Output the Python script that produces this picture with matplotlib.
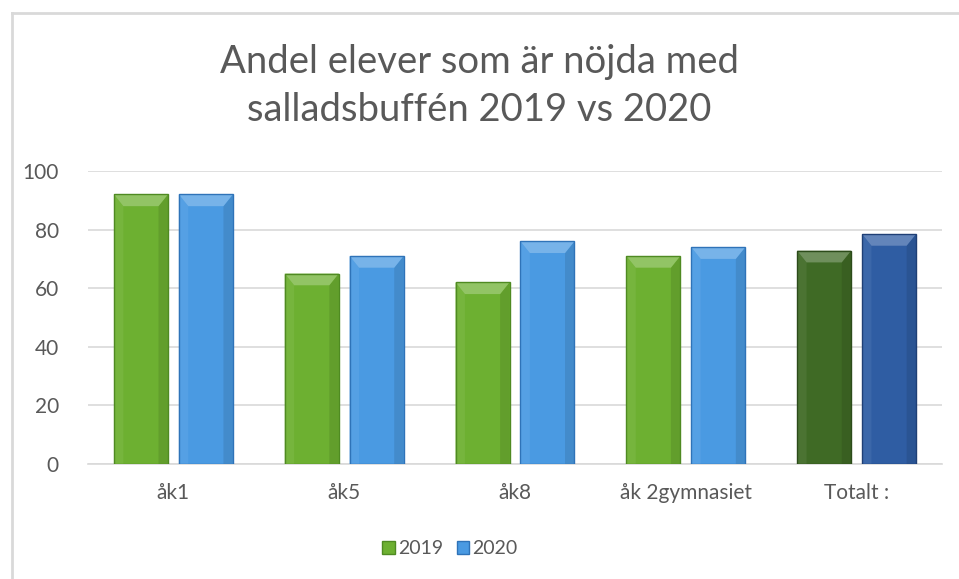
import matplotlib
matplotlib.use("Agg")
import matplotlib.pyplot as plt
import numpy as np
from matplotlib.lines import Line2D
from matplotlib.patches import Patch, Polygon
from matplotlib.colors import to_rgb

categories = ["åk1", "åk5", "åk8", "åk 2gymnasiet", "Totalt :"]
values_2019 = [92, 65, 62, 71, 72.8]
values_2020 = [92, 71, 76, 74, 78.5]
series_labels = ["2019", "2020"]
title = "Andel elever som är nöjda med\nsalladsbuffén 2019 vs 2020"

colors_2019 = ["#6DB031"] * 4 + ["#3F6A25"]
colors_2020 = ["#4A9AE2"] * 4 + ["#2F5DA3"]
edge_2019 = ["#4F8A22"] * 4 + ["#2C4B1A"]
edge_2020 = ["#2F73B8"] * 4 + ["#1F3F75"]

plt.rcParams['font.family'] = ['Lato', 'DejaVu Sans']

fig = plt.figure(figsize=(9.59, 5.79), dpi=100)
ax = fig.add_axes([88/959, 1-464/579, (942-88)/959, (464-171)/579])

x = np.arange(len(categories))
w = 0.316
off = 0.19
b1 = ax.bar(x - off, values_2019, w, color=colors_2019, edgecolor=edge_2019, linewidth=1, zorder=3)
b2 = ax.bar(x + off, values_2020, w, color=colors_2020, edgecolor=edge_2020, linewidth=1, zorder=3)


def mix(c, t, a):
    c = np.array(to_rgb(c)); t = np.array(to_rgb(t))
    return tuple(c * (1 - a) + t * a)


def bevel(bars):
    bx = 0.055   # bevel depth in x data units
    by = 4.0     # bevel depth in y data units
    for p in bars:
        x0 = p.get_x(); x1 = x0 + p.get_width(); h = p.get_height()
        c = p.get_facecolor()
        top = Polygon([[x0, h], [x1, h], [x1 - bx, h - by], [x0 + bx, h - by]],
                      closed=True, facecolor=mix(c, "white", 0.25), edgecolor="none", zorder=4)
        left = Polygon([[x0, 0], [x0, h], [x0 + bx, h - by], [x0 + bx, 0]],
                       closed=True, facecolor=mix(c, "white", 0.06), edgecolor="none", zorder=4)
        right = Polygon([[x1, 0], [x1, h], [x1 - bx, h - by], [x1 - bx, 0]],
                        closed=True, facecolor=mix(c, "black", 0.10), edgecolor="none", zorder=4)
        ax.add_patch(left); ax.add_patch(right); ax.add_patch(top)
        p.set_zorder(5); p.set_facecolor("none")


bevel(b1)
bevel(b2)
# fill body under bevels
ax.bar(x - off, values_2019, w, color=colors_2019, linewidth=0, zorder=3)
ax.bar(x + off, values_2020, w, color=colors_2020, linewidth=0, zorder=3)

ax.set_xlim(-0.5, len(categories) - 0.5)
ax.set_ylim(0, 100)
ax.set_yticks(range(0, 101, 20))
ax.set_xticks(x)
ax.set_xticklabels(categories)
ax.tick_params(axis='both', length=0, labelsize=15, colors="#595959")
ax.tick_params(axis='y', pad=21)
ax.tick_params(axis='x', pad=14)
ax.grid(axis='y', color="#D9D9D9", linewidth=1.2, zorder=0)
for s in ["top", "right", "left"]:
    ax.spines[s].set_visible(False)
ax.spines["bottom"].set_color("#D9D9D9")
ax.spines["bottom"].set_linewidth(1.2)

fig.text(479/959, 1-86/579, title, ha="center", va="center", fontsize=27.5,
         color="#595959", linespacing=1.4)

handles = [Patch(facecolor="#6DB031", edgecolor="#4F8A22"),
           Patch(facecolor="#4A9AE2", edgecolor="#2F73B8")]
leg = fig.legend(handles, series_labels, loc="center", bbox_to_anchor=(450/959, 1-549/579),
                 ncol=2, frameon=False, fontsize=14, handlelength=0.65, handleheight=0.65,
                 handletextpad=0.15, columnspacing=0.7)
for t in leg.get_texts():
    t.set_color("#595959")

fig.add_artist(Line2D([12/959, 12/959], [0, 1-13/579], color="#D9D9D9", linewidth=2, transform=fig.transFigure))
fig.add_artist(Line2D([12/959, 1], [1-13/579, 1-13/579], color="#D9D9D9", linewidth=2, transform=fig.transFigure))

fig.savefig("out.png", dpi=100, facecolor="white")
